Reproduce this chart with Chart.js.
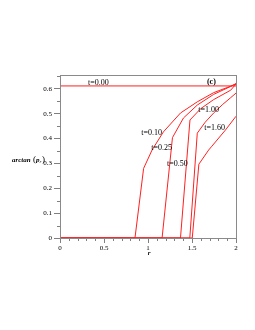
<!DOCTYPE html>
<html>
<head>
<meta charset="utf-8">
<script src="https://cdn.jsdelivr.net/npm/chart.js@4/dist/chart.umd.min.js"></script>
<style>
  html, body { margin: 0; padding: 0; background: #fff; }
  #wrap { width: 255px; height: 330px; }
</style>
</head>
<body>
<div id="wrap"><canvas id="c"></canvas></div>
<script>
// curves, x = r, y = arctan(p_r)
const t000X = [0, 2];
const t000Y = [0.612, 0.612];
const t010X = [0, 0.852, 0.95, 1.046, 1.175, 1.369, 1.56, 1.746, 1.94, 2];
const t010Y = [0, 0, 0.28, 0.354, 0.427, 0.503, 0.548, 0.585, 0.611, 0.621];
const t025X = [0, 1.16, 1.278, 1.403, 1.56, 1.746, 1.94, 2];
const t025Y = [0, 0, 0.404, 0.483, 0.535, 0.578, 0.61, 0.621];
const t050X = [0, 1.369, 1.477, 1.597, 1.746, 1.94, 2];
const t050Y = [0, 0, 0.475, 0.52, 0.557, 0.595, 0.62];
const t100X = [0, 1.475, 1.56, 1.65, 1.746, 1.85, 1.94, 2];
const t100Y = [0, 0, 0.422, 0.466, 0.503, 0.538, 0.565, 0.583];
const t160X = [0, 1.503, 1.578, 1.689, 1.72, 1.879, 2];
const t160Y = [0, 0, 0.297, 0.354, 0.367, 0.434, 0.49];

const xTicks = [0, 0.5, 1, 1.5, 2];
const yTicks = [0, 0.1, 0.2, 0.3, 0.4, 0.5, 0.6];

// text labels in data coordinates
const labelText = ['t=0.00', '(c)', 't=0.10', 't=0.25', 't=0.50', 't=1.00', 't=1.60'];
const labelX = [0.437, 1.72, 1.04, 1.156, 1.335, 1.689, 1.757];
const labelY = [0.625, 0.629, 0.423, 0.363, 0.297, 0.515, 0.443];

function pts(xs, ys) {
  return xs.map((x, i) => ({ x: x, y: ys[i] }));
}

function curve(xs, ys) {
  return {
    data: pts(xs, ys),
    showLine: true,
    borderColor: '#ff2020',
    borderWidth: 1,
    pointRadius: 0,
    tension: 0
  };
}

const serif = '"Liberation Serif", "DejaVu Serif", serif';

// minor ticks, text labels, frame and the axis titles
const extras = {
  id: 'extras',
  afterDraw(chart) {
    const ctx = chart.ctx;
    const xs = chart.scales.x, ys = chart.scales.y;
    const a = chart.chartArea;
    ctx.save();
    ctx.strokeStyle = '#808080';
    ctx.lineWidth = 1;
    // minor ticks
    ctx.beginPath();
    for (let v = 0.1; v < 2; v += 0.1) {
      const px = Math.round(xs.getPixelForValue(v)) + 0.5;
      ctx.moveTo(px, a.bottom);
      ctx.lineTo(px, a.bottom + 3);
    }
    for (let v = 0.05; v < 0.65; v += 0.1) {
      const py = Math.round(ys.getPixelForValue(v)) + 0.5;
      ctx.moveTo(a.left, py);
      ctx.lineTo(a.left - 3, py);
    }
    ctx.stroke();
    // frame
    ctx.strokeStyle = '#8a8a8a';
    ctx.strokeRect(Math.round(a.left) + 0.5, Math.round(a.top) + 0.5,
      Math.round(a.right - a.left), Math.round(a.bottom - a.top));
    // labels
    ctx.fillStyle = '#000';
    ctx.textAlign = 'center';
    ctx.textBaseline = 'middle';
    labelText.forEach((t, i) => {
      ctx.font = (t === '(c)' ? 'bold ' : '') + '8px ' + serif;
      ctx.fillText(t, xs.getPixelForValue(labelX[i]), ys.getPixelForValue(labelY[i]));
    });
    // x title
    ctx.font = 'bold italic 7px ' + serif;
    ctx.fillText('r', xs.getPixelForValue(1) + 1, 253);
    // y title
    ctx.textAlign = 'left';
    ctx.font = 'bold italic 7px ' + serif;
    ctx.fillText('arctan', 12, 160);
    ctx.font = '9px ' + serif;
    ctx.fillText('(', 33, 159.5);
    ctx.font = 'bold italic 7px ' + serif;
    ctx.fillText('p', 36, 160);
    ctx.font = 'italic 5px ' + serif;
    ctx.fillText('r', 39.5, 162);
    ctx.font = '9px ' + serif;
    ctx.fillText(')', 42, 159.5);
    ctx.restore();
  }
};

new Chart(document.getElementById('c'), {
  type: 'scatter',
  data: {
    datasets: [
      curve(t000X, t000Y),
      curve(t010X, t010Y),
      curve(t025X, t025Y),
      curve(t050X, t050Y),
      curve(t100X, t100Y),
      curve(t160X, t160Y)
    ]
  },
  options: {
    responsive: true,
    maintainAspectRatio: false,
    animation: false,
    layout: { padding: { left: 0, top: 75, right: 19, bottom: 0 } },
    plugins: { legend: { display: false }, tooltip: { enabled: false } },
    scales: {
      x: {
        type: 'linear',
        min: 0,
        max: 2,
        afterFit(s) { s.height = 92; },
        afterBuildTicks(s) { s.ticks = xTicks.map(v => ({ value: v })); },
        border: { display: false },
        grid: { drawOnChartArea: false, tickLength: 5, color: '#808080' },
        ticks: {
          padding: 1,
          color: '#000',
          font: { family: serif, size: 7 },
          callback: v => String(v)
        }
      },
      y: {
        type: 'linear',
        min: 0,
        max: 0.656,
        afterFit(s) { s.width = 60; },
        afterBuildTicks(s) { s.ticks = yTicks.map(v => ({ value: v })); },
        border: { display: false },
        grid: { drawOnChartArea: false, tickLength: 6, color: '#808080' },
        ticks: {
          padding: 2,
          color: '#000',
          font: { family: serif, size: 7 },
          callback: v => String(v)
        }
      }
    }
  },
  plugins: [extras]
});
</script>
</body>
</html>
